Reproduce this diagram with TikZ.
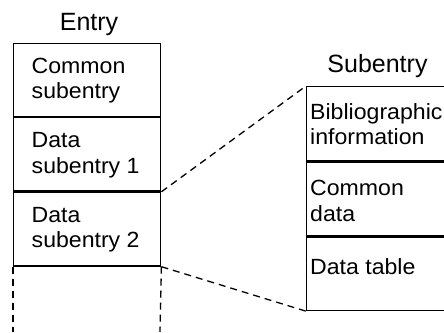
\documentclass[tikz,border=0pt]{standalone}
\usepackage{fontspec}
\setmainfont{Liberation Sans}
\newfontfamily\bodyfont{Liberation Sans}[FakeStretch=1.05]
\begin{document}
\begin{tikzpicture}[x=1pt,y=-1pt,
  cell/.style={draw, line width=1.4pt, anchor=north west, inner sep=0pt},
  ecell/.style={cell, minimum width=147pt, minimum height=73.5pt},
  scell/.style={cell, minimum width=170pt, minimum height=73.5pt},
  body/.style={anchor=north west, inner sep=0pt, align=left,
    font=\bodyfont\fontsize{22}{25.6}\selectfont},
  title/.style={anchor=base, inner sep=0pt, font=\fontsize{25}{28}\selectfont},
  link/.style={line width=1.3pt, dash pattern=on 7pt off 5pt}]
\useasboundingbox (0,0) rectangle (444,332);
\clip (0,0) rectangle (444,332);

% the entry: three stacked subentries
\node[title] (entry) at (89,30) {Entry};
\node[ecell, minimum height=72.5pt] (e1) at (13,43) {};
\node[ecell] (e2) at (e1.south west) {};
\node[ecell] (e3) at (e2.south west) {};
\node[body] (t1) at ([shift={(18.5,14.5)}]e1.north west) {Common\\subentry};
\node[body] (t2) at ([shift={(18.5,15.5)}]e2.north west) {Data\\subentry 1};
\node[body] (t3) at ([shift={(18.5,15)}]e3.north west) {Data\\subentry 2};

% open continuation below the entry
\coordinate (bl) at (13,332);
\coordinate (br) at (160,332);
\draw[link] (e3.south west) -- (bl);
\draw[link] (e3.south east) -- (br);

% one subentry in detail
\node[title] (sub) at (377.5,72.7) {Subentry};
\node[scell, minimum height=74pt] (s1) at (306,86) {};
\node[scell] (s2) at (s1.south west) {};
\node[scell] (s3) at (s2.south west) {};
\node[body] (u1) at ([shift={(4,17)}]s1.north west) {Bibliographic\\information};
\node[body] (u2) at ([shift={(4,19)}]s2.north west) {Common\\data};
\node[body] (u3) at ([shift={(4,22.5)}]s3.north west) {Data table};

% zoom lines from the second data subentry
\draw[link] (e2.south east) -- (s1.north west);
\draw[link] (e3.south east) -- (s3.south west);
\end{tikzpicture}
\end{document}
